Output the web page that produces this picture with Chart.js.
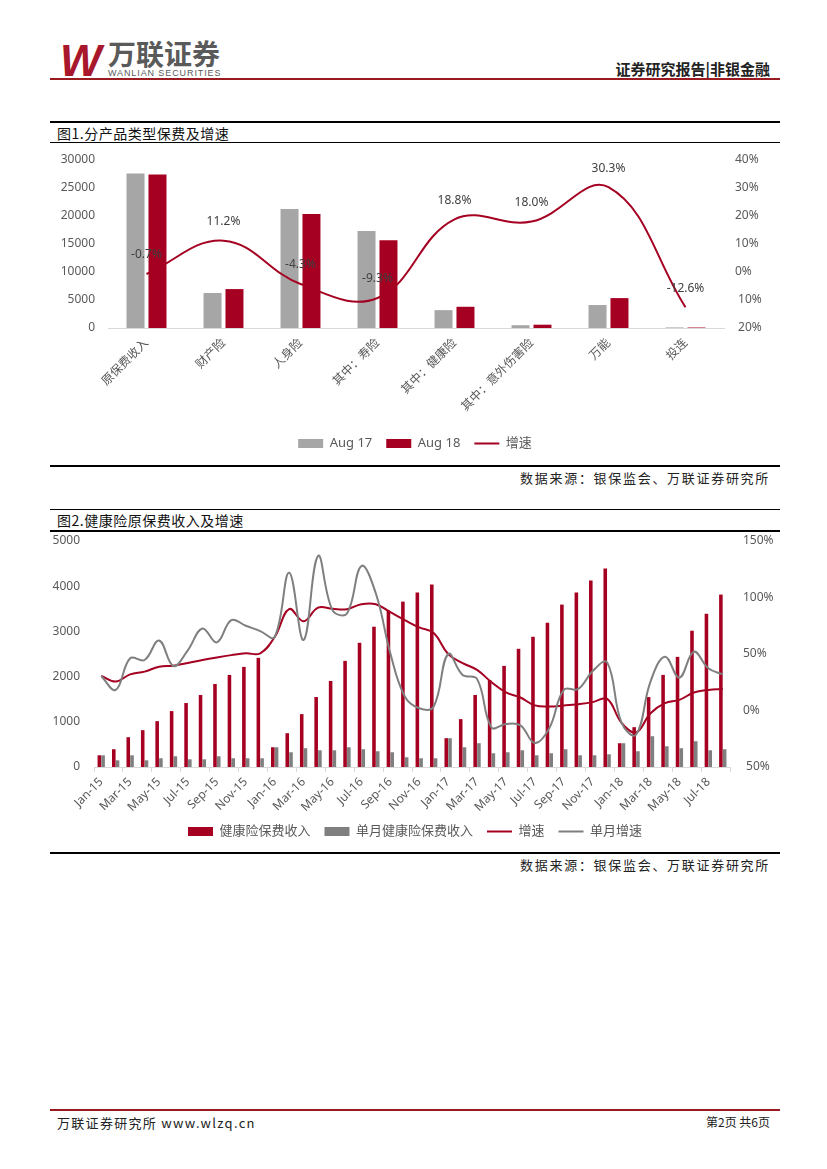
<!DOCTYPE html>
<html>
<head>
<meta charset="utf-8">
<script src="https://cdn.jsdelivr.net/npm/chart.js@4.4.1/dist/chart.umd.min.js"></script>
<style>
  body { margin: 0; background: #fff; }
  #page { position: relative; width: 827px; height: 1169px; background: #fff; overflow: hidden;
          font-family: "Noto Sans CJK SC", "Noto Sans", sans-serif; }
  .abs { position: absolute; white-space: nowrap; }
  .line { position: absolute; left: 50px; width: 730px; background: #000; }
  canvas { position: absolute; }
</style>
</head>
<body>
<div id="page">
  <!-- header -->
  <div class="abs" style="left:60px;top:36px;font:italic 900 44px 'Liberation Sans',sans-serif;color:#a8172b;letter-spacing:-4px;">W</div>
  <div class="abs" style="left:108px;top:33px;font:700 28px 'Noto Sans CJK SC';color:#5a5a5a;letter-spacing:0px;">万联证券</div>
  <div class="abs" style="left:108px;top:68px;font:9px 'Liberation Sans',sans-serif;color:#5a5a5a;letter-spacing:0.9px;">WANLIAN SECURITIES</div>
  <div class="abs" style="right:57px;top:58px;font:700 15px 'Noto Sans CJK SC';color:#222;">证券研究报告|非银金融</div>
  <div class="line" style="top:78px;height:2px;background:#9a1b1f;"></div>

  <!-- figure 1 -->
  <div class="line" style="top:121px;height:2px;"></div>
  <div class="abs" style="left:57px;top:123px;font:14px 'Noto Sans CJK SC';color:#111;letter-spacing:0.5px;">图1.分产品类型保费及增速</div>
  <div class="line" style="top:142px;height:1px;"></div>
  <canvas id="c1" width="730" height="318" style="left:50px;top:147px;width:730px;height:318px;"></canvas>
  <div class="line" style="top:465px;height:2px;"></div>
  <div class="abs" style="right:57px;top:468px;font:13px 'Noto Sans CJK SC';color:#222;letter-spacing:1.7px;">数据来源：银保监会、万联证券研究所</div>

  <!-- figure 2 -->
  <div class="line" style="top:509px;height:1px;"></div>
  <div class="abs" style="left:57px;top:510px;font:14px 'Noto Sans CJK SC';color:#111;letter-spacing:0.5px;">图2.健康险原保费收入及增速</div>
  <div class="line" style="top:530px;height:2px;"></div>
  <canvas id="c2" width="730" height="318" style="left:50px;top:533px;width:730px;height:318px;"></canvas>
  <div class="line" style="top:852px;height:2px;"></div>
  <div class="abs" style="right:57px;top:855px;font:13px 'Noto Sans CJK SC';color:#222;letter-spacing:1.7px;">数据来源：银保监会、万联证券研究所</div>

  <!-- footer -->
  <div class="line" style="top:1109px;height:2px;background:#9a1b1f;"></div>
  <div class="abs" style="left:57px;top:1113px;font:13px 'Noto Sans CJK SC';color:#222;letter-spacing:1.3px;">万联证券研究所 www.wlzq.cn</div>
  <div class="abs" style="right:57px;top:1113px;font:12px 'Noto Sans CJK SC';color:#222;">第2页 共6页</div>
</div>

<script>
// ---- figure 1 data ----
const cats1 = ['原保费收入', '财产险', '人身险', '其中：寿险', '其中：健康险', '其中：意外伤害险', '万能', '投连'];
const aug17 = [27600, 6250, 21250, 17300, 3190, 500, 4100, 100];
const aug18 = [27400, 6950, 20340, 15690, 3790, 590, 5340, 87];
const growth1 = [-0.7, 11.2, -4.3, -9.3, 18.8, 18.0, 30.3, -12.6];

// ---- figure 2 data ----
const months = ['Jan-15','Feb-15','Mar-15','Apr-15','May-15','Jun-15','Jul-15','Aug-15','Sep-15','Oct-15','Nov-15','Dec-15',
                'Jan-16','Feb-16','Mar-16','Apr-16','May-16','Jun-16','Jul-16','Aug-16','Sep-16','Oct-16','Nov-16','Dec-16',
                'Jan-17','Feb-17','Mar-17','Apr-17','May-17','Jun-17','Jul-17','Aug-17','Sep-17','Oct-17','Nov-17','Dec-17',
                'Jan-18','Feb-18','Mar-18','Apr-18','May-18','Jun-18','Jul-18','Aug-18'];
// 健康险保费收入 (累计)
const cumPrem = [259, 393, 659, 815, 1015, 1237, 1415, 1593, 1837, 2037, 2215, 2415,
                 437, 748, 1170, 1548, 1904, 2348, 2748, 3104, 3459, 3659, 3859, 4037,
                 637, 1059, 1593, 1926, 2237, 2615, 2881, 3193, 3593, 3859, 4126, 4393,
                 526, 881, 1548, 2037, 2437, 3015, 3393, 3815];
// 单月健康险保费收入
const monthPrem = [259, 148, 259, 148, 193, 237, 170, 170, 237, 193, 193, 193,
                   437, 326, 415, 370, 370, 437, 393, 348, 326, 215, 193, 193,
                   637, 437, 526, 304, 326, 370, 259, 304, 393, 259, 259, 281,
                   526, 348, 681, 459, 415, 570, 370, 393];
// 增速 (%)
const cumGrowth = [30.6, 25.6, 32, 34.4, 38.8, 39.7, 42, 44.7, 47, 49, 50.6, 50.6,
                   65, 89.7, 79, 91, 90, 89.7, 94, 94, 87, 80, 73.5, 68.5,
                   50, 42, 36, 25, 16, 11.5, 4.5, 3.5, 4.4, 5.6, 7.4, 10.3,
                   -11, -19.4, -2.4, 6.5, 9.4, 15.9, 18.2, 19.1];
// 单月增速 (%)
const monthGrowth = [30.6, 18.2, 46.2, 44.7, 62, 39.4, 53.5, 72.6, 60.3, 80, 75, 70.3,
                     65, 121.8, 62.4, 136.8, 88.8, 85.9, 127.9, 103.5, 50.6, 12.4, 2, 3.5,
                     50, 31.5, 28, -15, -12, -13.2, -28.8, -15.6, 18.2, 19.1, 35, 42.6,
                     -11, -21.5, 25.6, 47.6, 29.1, 52, 37.4, 32];

const RED = '#a50021';
const GRAY1 = '#a6a6a6';
const GRAY2 = '#7f7f7f';
const TXT = '#595959';

Chart.defaults.font.family = '"Noto Sans", "Noto Sans CJK SC", sans-serif';
Chart.defaults.color = TXT;
Chart.defaults.animation = false;

// percent ticks: the minus sign does not show in the source picture
function pctTick(v) {
  return (v < 0 ? ' ' : '') + Math.abs(v) + '%';
}
function numTick(v) {
  return String(v);
}
// fixed axis width, and no extra label padding on top/bottom of the plot
function fixWidth(w) {
  return function (s) { s.width = w; s.paddingTop = 0; s.paddingBottom = 0; };
}

function legendItems(chart) {
  return chart.data.datasets.map((ds, i) => ({
    text: ds.label,
    fillStyle: ds.type === 'line' ? ds.borderColor : ds.backgroundColor,
    strokeStyle: ds.type === 'line' ? ds.borderColor : ds.backgroundColor,
    lineWidth: ds.type === 'line' ? 2 : 0,
    pointStyle: ds.type === 'line' ? 'line' : 'rect',
    fontColor: TXT,
    hidden: false,
    datasetIndex: i
  }));
}

const legendOpts = {
  position: 'bottom',
  labels: {
    usePointStyle: true, pointStyleWidth: 25, boxHeight: 9, padding: 14,
    font: { size: 13 }, color: TXT, generateLabels: legendItems
  }
};

// labels above the growth line in figure 1
const growthLabels = {
  id: 'growthLabels',
  afterDatasetsDraw(chart) {
    const meta = chart.getDatasetMeta(2);
    const ctx = chart.ctx;
    ctx.save();
    ctx.font = '12px "Noto Sans", sans-serif';
    ctx.fillStyle = '#404040';
    ctx.textAlign = 'center';
    ctx.textBaseline = 'middle';
    meta.data.forEach((pt, i) => {
      ctx.fillText(growth1[i].toFixed(1) + '%', pt.x, pt.y - 19);
    });
    ctx.restore();
  }
};

new Chart(document.getElementById('c1'), {
  type: 'bar',
  data: {
    labels: cats1,
    datasets: [
      { type: 'bar', label: 'Aug 17', data: aug17, backgroundColor: GRAY1, yAxisID: 'y', order: 1,
        categoryPercentage: 0.57, barPercentage: 0.82 },
      { type: 'bar', label: 'Aug 18', data: aug18, backgroundColor: RED, yAxisID: 'y', order: 1,
        categoryPercentage: 0.57, barPercentage: 0.82 },
      { type: 'line', label: '增速', data: growth1, borderColor: RED, borderWidth: 2, pointRadius: 0,
        tension: 0.4, yAxisID: 'y1', order: 0 }
    ]
  },
  options: {
    responsive: false,
    layout: { padding: { top: 13, bottom: 5, left: 0, right: 0 } },
    plugins: { legend: legendOpts, tooltip: { enabled: false } },
    scales: {
      x: {
        grid: { display: false, drawTicks: false },
        border: { display: true, color: '#d9d9d9' },
        ticks: { autoSkip: false, minRotation: 45, maxRotation: 45, padding: 8, font: { size: 12 }, color: TXT },
        afterFit(s) { s.height = 95; }
      },
      y: {
        position: 'left', min: 0, max: 30000,
        grid: { display: false, drawTicks: false }, border: { display: false },
        ticks: { stepSize: 5000, padding: 13, font: { size: 12 }, color: TXT, callback: numTick },
        afterFit: fixWidth(58)
      },
      y1: {
        position: 'right', min: -20, max: 40,
        grid: { display: false, drawTicks: false }, border: { display: false },
        ticks: { stepSize: 10, padding: 11, font: { size: 12 }, color: TXT, callback: pctTick },
        afterFit: fixWidth(56)
      }
    }
  },
  plugins: [growthLabels]
});

new Chart(document.getElementById('c2'), {
  type: 'bar',
  data: {
    labels: months,
    datasets: [
      { type: 'bar', label: '健康险保费收入', data: cumPrem, backgroundColor: RED, yAxisID: 'y', order: 2,
        categoryPercentage: 0.52, barPercentage: 0.95 },
      { type: 'bar', label: '单月健康险保费收入', data: monthPrem, backgroundColor: GRAY2, yAxisID: 'y', order: 2,
        categoryPercentage: 0.52, barPercentage: 0.95 },
      { type: 'line', label: '增速', data: cumGrowth, borderColor: RED, borderWidth: 2, pointRadius: 0,
        tension: 0.4, yAxisID: 'y1', order: 1 },
      { type: 'line', label: '单月增速', data: monthGrowth, borderColor: GRAY2, borderWidth: 2, pointRadius: 0,
        tension: 0.4, yAxisID: 'y1', order: 0 }
    ]
  },
  options: {
    responsive: false,
    layout: { padding: { top: 8, bottom: 3, left: 0, right: 0 } },
    plugins: { legend: legendOpts, tooltip: { enabled: false } },
    scales: {
      x: {
        offset: true,
        grid: {
          display: true, drawOnChartArea: false, drawTicks: true, tickLength: 5, offset: true,
          color: c => (c.index === undefined || c.index % 2 === 0) ? '#d9d9d9' : 'rgba(0,0,0,0)'
        },
        border: { display: true, color: '#d9d9d9' },
        ticks: {
          autoSkip: false, minRotation: 45, maxRotation: 45, padding: 3, font: { size: 12 }, color: TXT,
          callback: function (v, i) { return i % 2 === 0 ? this.getLabelForValue(v) : ''; }
        },
        afterFit(s) { s.height = 44; }
      },
      y: {
        position: 'left', min: 0, max: 5000,
        grid: { display: false, drawTicks: false }, border: { display: false },
        ticks: { stepSize: 1000, padding: 14, font: { size: 12 }, color: TXT, callback: numTick },
        afterFit: fixWidth(44)
      },
      y1: {
        position: 'right', min: -50, max: 150,
        grid: { display: false, drawTicks: false }, border: { display: false },
        ticks: { stepSize: 50, padding: 13, font: { size: 12 }, color: TXT, callback: pctTick },
        afterFit: fixWidth(50)
      }
    }
  }
});
</script>
</body>
</html>
